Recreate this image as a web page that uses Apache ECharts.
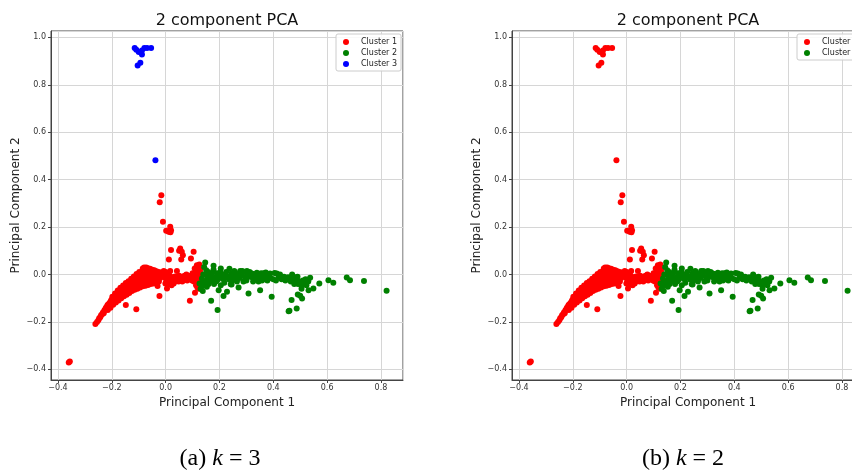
<!DOCTYPE html>
<html>
<head>
<meta charset="utf-8">
<script src="https://cdn.jsdelivr.net/npm/echarts@6/dist/echarts.min.js"></script>
<style>
html,body{margin:0;padding:0;background:#fff;}
#chart{width:852px;height:473px;}
</style>
</head>
<body>
<div id="chart"></div>
<script>
// ---- data (PC1, PC2) ----
var cluster1 = [
[-0.360,-0.371],[-0.356,-0.367],
[-0.261,-0.209],[-0.255,-0.200],[-0.250,-0.193],[-0.247,-0.185],[-0.243,-0.180],[-0.240,-0.172],[-0.236,-0.168],[-0.233,-0.160],[-0.230,-0.163],[-0.228,-0.152],[-0.225,-0.148],[-0.222,-0.140],[-0.220,-0.145],[-0.217,-0.132],[-0.215,-0.128],[-0.213,-0.136],[-0.210,-0.122],[-0.207,-0.118],[-0.205,-0.126],[-0.203,-0.110],[-0.200,-0.105],[-0.198,-0.115],[-0.196,-0.098],[-0.193,-0.102],[-0.190,-0.092],[-0.188,-0.100],[-0.186,-0.085],[-0.183,-0.090],[-0.180,-0.078],[-0.178,-0.088],[-0.176,-0.072],[-0.173,-0.080],[-0.170,-0.066],[-0.168,-0.075],[-0.166,-0.060],[-0.163,-0.070],[-0.160,-0.055],[-0.158,-0.065],[-0.156,-0.078],[-0.153,-0.050],[-0.150,-0.060],[-0.148,-0.044],[-0.145,-0.055],[-0.143,-0.068],[-0.140,-0.038],[-0.138,-0.050],[-0.135,-0.032],[-0.133,-0.045],[-0.130,-0.058],[-0.128,-0.026],[-0.125,-0.040],[-0.123,-0.021],[-0.120,-0.035],[-0.118,-0.048],[-0.116,-0.016],[-0.113,-0.030],[-0.110,-0.010],[-0.108,-0.025],[-0.106,-0.040],[-0.104,-0.006],[-0.101,-0.020],[-0.099,-0.002],[-0.096,-0.015],[-0.094,0.004],[-0.091,-0.010],[-0.089,-0.028],[-0.087,0.008],[-0.084,-0.006],[-0.082,0.012],[-0.080,-0.003],[-0.078,0.020],[-0.076,0.026],[-0.074,0.008],[-0.072,0.018],[-0.070,-0.002],[-0.068,0.022],[-0.066,0.010],[-0.064,0.016],[-0.062,0.002],[-0.060,0.020],[-0.058,0.008],[-0.055,0.014],[-0.053,-0.004],[-0.050,0.010],[-0.047,0.004],[-0.044,0.012],[-0.041,-0.002],[-0.038,0.006],[-0.035,0.002],[-0.032,-0.006],[-0.028,0.004],[-0.025,-0.002],[-0.021,0.001],[-0.017,-0.006],[-0.013,0.000],[-0.009,-0.004],[-0.005,0.002],
[-0.215,-0.150],[-0.205,-0.140],[-0.195,-0.128],[-0.185,-0.118],[-0.175,-0.110],[-0.165,-0.100],[-0.155,-0.092],[-0.145,-0.085],[-0.135,-0.078],[-0.125,-0.070],[-0.115,-0.064],[-0.105,-0.060],[-0.095,-0.055],[-0.085,-0.050],[-0.075,-0.047],[-0.065,-0.044],[-0.055,-0.040],[-0.045,-0.038],[-0.035,-0.035],[-0.025,-0.030],
[-0.212,-0.138],[-0.200,-0.125],[-0.190,-0.112],[-0.180,-0.102],[-0.170,-0.090],[-0.160,-0.082],[-0.150,-0.072],[-0.140,-0.065],[-0.130,-0.055],[-0.120,-0.050],[-0.110,-0.042],[-0.100,-0.035],[-0.090,-0.038],[-0.080,-0.030],[-0.070,-0.028],[-0.060,-0.025],[-0.050,-0.022],[-0.040,-0.020],[-0.030,-0.018],[-0.020,-0.015],
[-0.090,-0.018],[-0.080,-0.012],[-0.070,-0.010],[-0.060,-0.008],[-0.050,-0.010],[-0.040,-0.008],[-0.115,-0.038],[-0.125,-0.052],[-0.145,-0.070],
[-0.085,0.025],[-0.080,0.030],[-0.072,0.030],[-0.066,0.026],[-0.058,0.024],[-0.050,0.020],[-0.042,0.018],[-0.034,0.014],[-0.026,0.010],[-0.018,0.008],[-0.098,0.010],[-0.108,0.002],[-0.118,-0.008],[-0.128,-0.018],[-0.138,-0.028],[-0.148,-0.036],[-0.158,-0.046],[-0.168,-0.056],[-0.178,-0.068],[-0.188,-0.080],[-0.198,-0.094],
[-0.148,-0.129],[-0.109,-0.147],
[-0.016,0.334],[-0.022,0.305],[-0.010,0.222],[0.002,0.184],[0.017,0.201],[0.020,0.187],[0.011,0.180],[0.018,0.178],
[0.020,0.103],[0.054,0.110],[0.050,0.100],[0.060,0.096],[0.064,0.081],[0.058,0.063],[0.012,0.063],[0.104,0.096],[0.094,0.067],[0.116,0.039],[0.125,0.042],[0.120,0.030],
[-0.030,-0.049],[-0.023,-0.091],[0.030,-0.038],[0.090,-0.111],[0.109,-0.077],[0.077,0.000],[0.073,-0.021],[0.042,0.015],[0.017,0.015],[-0.007,0.015],[0.005,-0.059],[-0.001,-0.038],
[0.005,-0.010],[0.010,-0.020],[0.015,-0.005],[0.020,-0.025],[0.025,-0.012],[0.030,-0.018],[0.035,-0.008],[0.040,-0.022],[0.045,-0.015],[0.050,-0.005],[0.055,-0.020],[0.060,-0.010],[0.065,-0.018],[0.085,-0.005],[0.088,-0.020],[0.095,-0.012],[0.105,-0.030],[0.110,-0.010],[0.112,-0.020],[0.115,0.010],[0.118,-0.040],[0.122,0.000],[0.125,-0.015],[0.128,0.020],[0.010,0.005],[-0.002,-0.015],[0.003,-0.030],[0.118,-0.055],[0.121,-0.030],
[0.000,0.010],[0.008,-0.040],[0.022,-0.045],[0.035,-0.030],[0.048,-0.030],[0.062,-0.030],[0.070,-0.005],[0.080,-0.025],[0.098,-0.025],[0.100,0.005],[0.108,0.025],[0.113,-0.045],[0.124,-0.060],[0.127,-0.025],[0.129,0.005]
];
var cluster2 = [
[0.126,-0.038],[0.135,-0.017],[0.143,0.032],[0.147,0.051],[0.151,0.018],[0.160,-0.010],[0.135,-0.049],[0.153,-0.052],[0.169,-0.111],[0.178,0.037],[0.178,0.020],[0.193,-0.150],[0.197,-0.066],[0.205,0.025],[0.215,-0.091],[0.221,-0.010],[0.228,-0.073],[0.237,0.024],[0.242,-0.041],[0.250,-0.005],[0.271,-0.055],[0.277,0.015],[0.283,-0.003],[0.289,-0.030],[0.302,0.015],[0.308,-0.080],[0.314,-0.010],[0.326,0.002],[0.339,0.007],[0.345,-0.030],[0.351,-0.066],[0.363,-0.020],[0.376,-0.005],[0.388,0.004],[0.394,-0.094],[0.400,-0.020],[0.413,0.004],[0.431,-0.020],[0.462,-0.020],[0.475,-0.010],[0.481,-0.025],[0.490,-0.010],[0.498,-0.030],[0.504,-0.045],[0.510,-0.025],[0.523,-0.045],[0.531,-0.066],[0.537,-0.014],[0.549,-0.059],[0.571,-0.038],[0.605,-0.024],[0.623,-0.035],[0.673,-0.013],[0.685,-0.024],[0.737,-0.027],[0.821,-0.069],[0.460,-0.153],[0.468,-0.108],[0.487,-0.143],[0.491,-0.084],[0.500,-0.090],[0.507,-0.101],
[0.140,0.000],[0.145,-0.030],[0.155,-0.020],[0.165,-0.005],[0.170,0.005],[0.185,-0.012],[0.190,0.005],[0.200,-0.005],[0.210,0.000],[0.225,0.010],[0.232,-0.008],[0.245,0.005],[0.258,0.008],[0.262,-0.010],[0.268,0.000],[0.290,0.010],[0.295,-0.012],[0.305,0.000],[0.318,0.005],[0.322,-0.012],[0.332,-0.020],[0.336,0.000],[0.348,-0.010],[0.355,0.005],[0.368,-0.012],[0.372,0.008],[0.382,-0.008],[0.405,0.006],[0.420,-0.010],[0.428,-0.015],[0.440,-0.010],[0.455,-0.012],[0.470,0.000],[0.485,-0.020],[0.515,-0.035],[0.520,-0.020],[0.130,-0.060],[0.138,-0.070],[0.160,-0.040],[0.175,-0.025],[0.188,-0.030],[0.205,-0.045],[0.215,-0.020],[0.245,-0.042],[0.457,-0.155],
[0.140,-0.040],[0.150,0.000],[0.158,0.010],[0.163,-0.030],[0.172,-0.015],[0.180,-0.040],[0.195,-0.020],[0.203,0.010],[0.218,-0.035],[0.235,-0.020],[0.248,-0.025],[0.255,0.015],[0.265,-0.030],[0.275,-0.015],[0.285,0.015],[0.300,-0.025],[0.312,0.010],[0.325,-0.030],[0.340,-0.015],[0.358,-0.025],[0.365,0.005],[0.378,-0.025],[0.390,-0.015],[0.410,-0.025],[0.425,0.000],[0.445,-0.025],[0.465,-0.030],[0.478,-0.040],[0.492,-0.040],[0.505,-0.060],[0.530,-0.030]
];
var cluster3 = [
[-0.115,0.955],[-0.109,0.948],[-0.100,0.938],[-0.088,0.945],[-0.079,0.955],[-0.069,0.955],[-0.054,0.955],[-0.088,0.928],[-0.104,0.882],[-0.094,0.893],[-0.038,0.482]
];
var seriesNamesA = ['Cluster 1','Cluster 2','Cluster 3'];
var seriesNamesB = ['Cluster 1','Cluster 2'];
var titleText = '2 component PCA';
var xLabel = 'Principal Component 1';
var yLabel = 'Principal Component 2';
var xRange = [-0.426, 0.882];
var yRange = [-0.445, 1.027];

// ---- chart ----
var chart = echarts.init(document.getElementById('chart'), null, {renderer:'canvas'});
var FONT = 'DejaVu Sans';
function fmt(v){ var s = Math.abs(v).toFixed(1); return (v < -1e-9 ? '\u2212' : '') + s; }
function xAxisFor(gi){
  return {
    type:'value', gridIndex:gi, min:xRange[0], max:xRange[1], splitNumber:6,
    name:xLabel, nameLocation:'middle', nameGap:15,
    nameTextStyle:{fontFamily:FONT, fontSize:12, color:'#222'},
    axisLine:{show:true, onZero:false, lineStyle:{color:'#444', width:1}},
    axisTick:{show:true, length:3, lineStyle:{color:'#444'}},
    axisLabel:{fontFamily:FONT, fontSize:8, color:'#333', margin:4, formatter:fmt, showMinLabel:false, showMaxLabel:false},
    splitLine:{show:true, lineStyle:{color:'#d6d6d6', width:1}}
  };
}
function yAxisFor(gi){
  return {
    type:'value', gridIndex:gi, min:yRange[0], max:yRange[1], splitNumber:6,
    name:yLabel, nameLocation:'middle', nameGap:29, nameRotate:90,
    nameTextStyle:{fontFamily:FONT, fontSize:12, color:'#222'},
    axisLine:{show:true, onZero:false, lineStyle:{color:'#444', width:1}},
    axisTick:{show:true, length:3, lineStyle:{color:'#444'}},
    axisLabel:{fontFamily:FONT, fontSize:8, color:'#333', margin:5, formatter:fmt, showMinLabel:false, showMaxLabel:false},
    splitLine:{show:true, lineStyle:{color:'#d6d6d6', width:1}}
  };
}
function legendFor(left, names){
  return {
    orient:'vertical', left:left, top:34, data:names,
    itemWidth:20, itemHeight:6, itemGap:3,
    padding:[4,4,3,7],
    borderColor:'#cccccc', borderWidth:1, borderRadius:2,
    backgroundColor:'rgba(255,255,255,0.85)',
    textStyle:{fontFamily:FONT, fontSize:8, color:'#222'},
    selectedMode:false
  };
}
function scatter(name, data, color, xi){
  return {type:'scatter', name:name, data:data, xAxisIndex:xi, yAxisIndex:xi,
    symbol:'circle', symbolSize:6, itemStyle:{color:color, opacity:1}, silent:true};
}
var option = {
  animation:false,
  backgroundColor:'#ffffff',
  grid:[
    {left:51, top:31, width:352, height:349, show:true, borderColor:'#444', borderWidth:1, outerBoundsMode:'none', containLabel:false},
    {left:512, top:31, width:352, height:349, show:true, borderColor:'#444', borderWidth:1, outerBoundsMode:'none', containLabel:false}
  ],
  xAxis:[xAxisFor(0), xAxisFor(1)],
  yAxis:[yAxisFor(0), yAxisFor(1)],
  legend:[legendFor(336, seriesNamesA), legendFor(797, seriesNamesB)],
  series:[
    scatter(seriesNamesA[0], cluster1, '#ff0000', 0),
    scatter(seriesNamesA[1], cluster2, '#008000', 0),
    scatter(seriesNamesA[2], cluster3, '#0000ff', 0),
    scatter(seriesNamesB[0], cluster1.concat(cluster3), '#ff0000', 1),
    scatter(seriesNamesB[1], cluster2, '#008000', 1)
  ],
  graphic:[
    {type:'text', x:227, y:21, silent:true, style:{text:titleText, fontFamily:FONT, fontSize:16, fill:'#111', align:'center', verticalAlign:'middle'}},
    {type:'text', x:688, y:21, silent:true, style:{text:titleText, fontFamily:FONT, fontSize:16, fill:'#111', align:'center', verticalAlign:'middle'}},
    {type:'text', x:220, y:459, silent:true, style:{text:'(a) {i|k} = 3', fontFamily:'Liberation Serif', fontSize:24, fill:'#000', align:'center', verticalAlign:'middle',
      rich:{i:{fontFamily:'Liberation Serif', fontStyle:'italic', fontSize:24, fill:'#000'}}}},
    {type:'text', x:683, y:459, silent:true, style:{text:'(b) {i|k} = 2', fontFamily:'Liberation Serif', fontSize:24, fill:'#000', align:'center', verticalAlign:'middle',
      rich:{i:{fontFamily:'Liberation Serif', fontStyle:'italic', fontSize:24, fill:'#000'}}}}
  ]
};
chart.setOption(option);
</script>
</body>
</html>
